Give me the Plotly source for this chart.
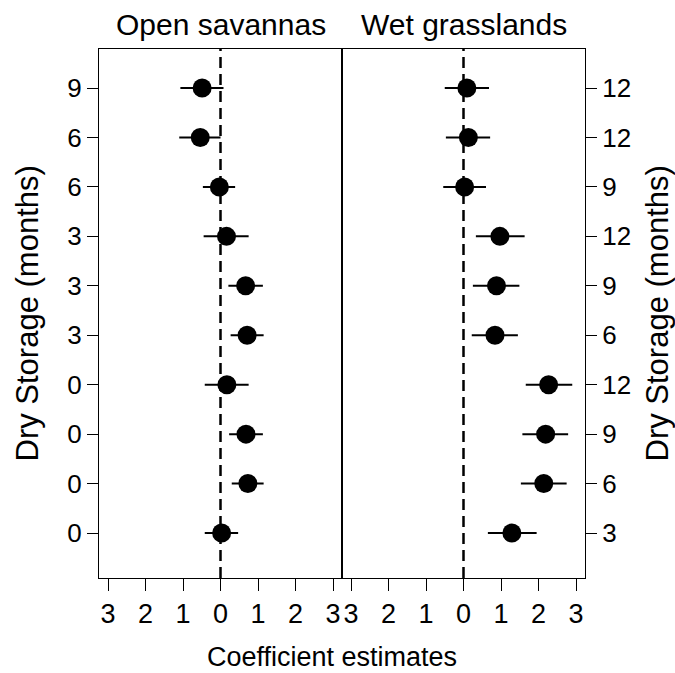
import plotly.graph_objects as go
from plotly.subplots import make_subplots

# rows listed top -> bottom
left_labels = ['9', '6', '6', '3', '3', '3', '0', '0', '0', '0']
left_est = [-0.49, -0.54, -0.03, 0.16, 0.67, 0.71, 0.17, 0.68, 0.73, 0.03]
left_lo = [-1.07, -1.10, -0.47, -0.45, 0.21, 0.27, -0.42, 0.23, 0.30, -0.42]
left_hi = [0.08, 0.00, 0.39, 0.75, 1.13, 1.15, 0.75, 1.13, 1.15, 0.47]

right_labels = ['12', '12', '9', '12', '9', '6', '12', '9', '6', '3']
right_est = [0.09, 0.13, 0.03, 0.97, 0.88, 0.84, 2.27, 2.19, 2.14, 1.29]
right_lo = [-0.50, -0.47, -0.54, 0.33, 0.25, 0.22, 1.66, 1.57, 1.53, 0.65]
right_hi = [0.68, 0.71, 0.60, 1.63, 1.49, 1.45, 2.90, 2.79, 2.75, 1.95]

x_tickvals = [-3, -2, -1, 0, 1, 2, 3]
x_ticktext = ['3', '2', '1', '0', '1', '2', '3']

panel_titles = ['Open savannas', 'Wet grasslands']
x_title = 'Coefficient estimates'
y_title = 'Dry Storage (months)'

n = len(left_est)
ypos = list(range(n, 0, -1))

FONT = 'Liberation Sans, Arial, sans-serif'

fig = make_subplots(rows=1, cols=2, horizontal_spacing=0)

for col, (est, lo, hi) in enumerate([(left_est, left_lo, left_hi),
                                      (right_est, right_lo, right_hi)], start=1):
    fig.add_trace(go.Scatter(
        x=est, y=ypos, mode='markers',
        marker=dict(size=19, color='black'),
        error_x=dict(type='data', symmetric=False,
                     array=[h - e for h, e in zip(hi, est)],
                     arrayminus=[e - l for e, l in zip(est, lo)],
                     thickness=2, width=0, color='black'),
        showlegend=False, hoverinfo='skip'), row=1, col=col)
    fig.add_shape(type='line', x0=0, x1=0, y0=0, y1=1,
                  xref='x' if col == 1 else 'x2',
                  yref='y domain' if col == 1 else 'y2 domain',
                  line=dict(color='black', width=2.5, dash='11px,6px'),
                  layer='below')

for col in (1, 2):
    fig.update_xaxes(range=[-3.24, 3.24], tickvals=x_tickvals, ticktext=x_ticktext,
                     ticks='outside', ticklen=12, tickwidth=1, tickcolor='black',
                     showline=True, linecolor='black', linewidth=1, mirror=True,
                     showgrid=False, zeroline=False,
                     tickfont=dict(family=FONT, size=27, color='black'),
                     row=1, col=col)
    fig.update_yaxes(range=[0.09, 10.79], tickvals=ypos,
                     ticktext=left_labels if col == 1 else right_labels,
                     side='left' if col == 1 else 'right',
                     ticks='outside', ticklen=11, tickwidth=1, tickcolor='black',
                     showline=True, linecolor='black', linewidth=1, mirror=True,
                     showgrid=False, zeroline=False,
                     tickfont=dict(family=FONT, size=26, color='black'),
                     row=1, col=col)

annots = [
    dict(text=panel_titles[0], x=0.25, y=1, xref='paper', yref='paper',
         xanchor='center', yanchor='bottom', yshift=6, showarrow=False,
         font=dict(family=FONT, size=30, color='black')),
    dict(text=panel_titles[1], x=0.75, y=1, xref='paper', yref='paper',
         xanchor='center', yanchor='bottom', yshift=6, showarrow=False,
         font=dict(family=FONT, size=30, color='black')),
    dict(text=x_title, x=0.48, y=0, xref='paper', yref='paper',
         xanchor='center', yanchor='middle', yshift=-79, showarrow=False,
         font=dict(family=FONT, size=27, color='black')),
    dict(text=y_title, x=0, y=0.5, xref='paper', yref='paper',
         xanchor='center', yanchor='middle', xshift=-72, textangle=-90,
         showarrow=False, font=dict(family=FONT, size=31, color='black')),
    dict(text=y_title, x=1, y=0.5, xref='paper', yref='paper',
         xanchor='center', yanchor='middle', xshift=72, textangle=-90,
         showarrow=False, font=dict(family=FONT, size=31, color='black')),
]
fig.update_layout(annotations=annots)

fig.update_layout(width=675, height=673,
                  margin=dict(l=99, r=90, t=49, b=95),
                  plot_bgcolor='white', paper_bgcolor='white',
                  font=dict(family=FONT, color='black'))

fig.write_html('out.html')
